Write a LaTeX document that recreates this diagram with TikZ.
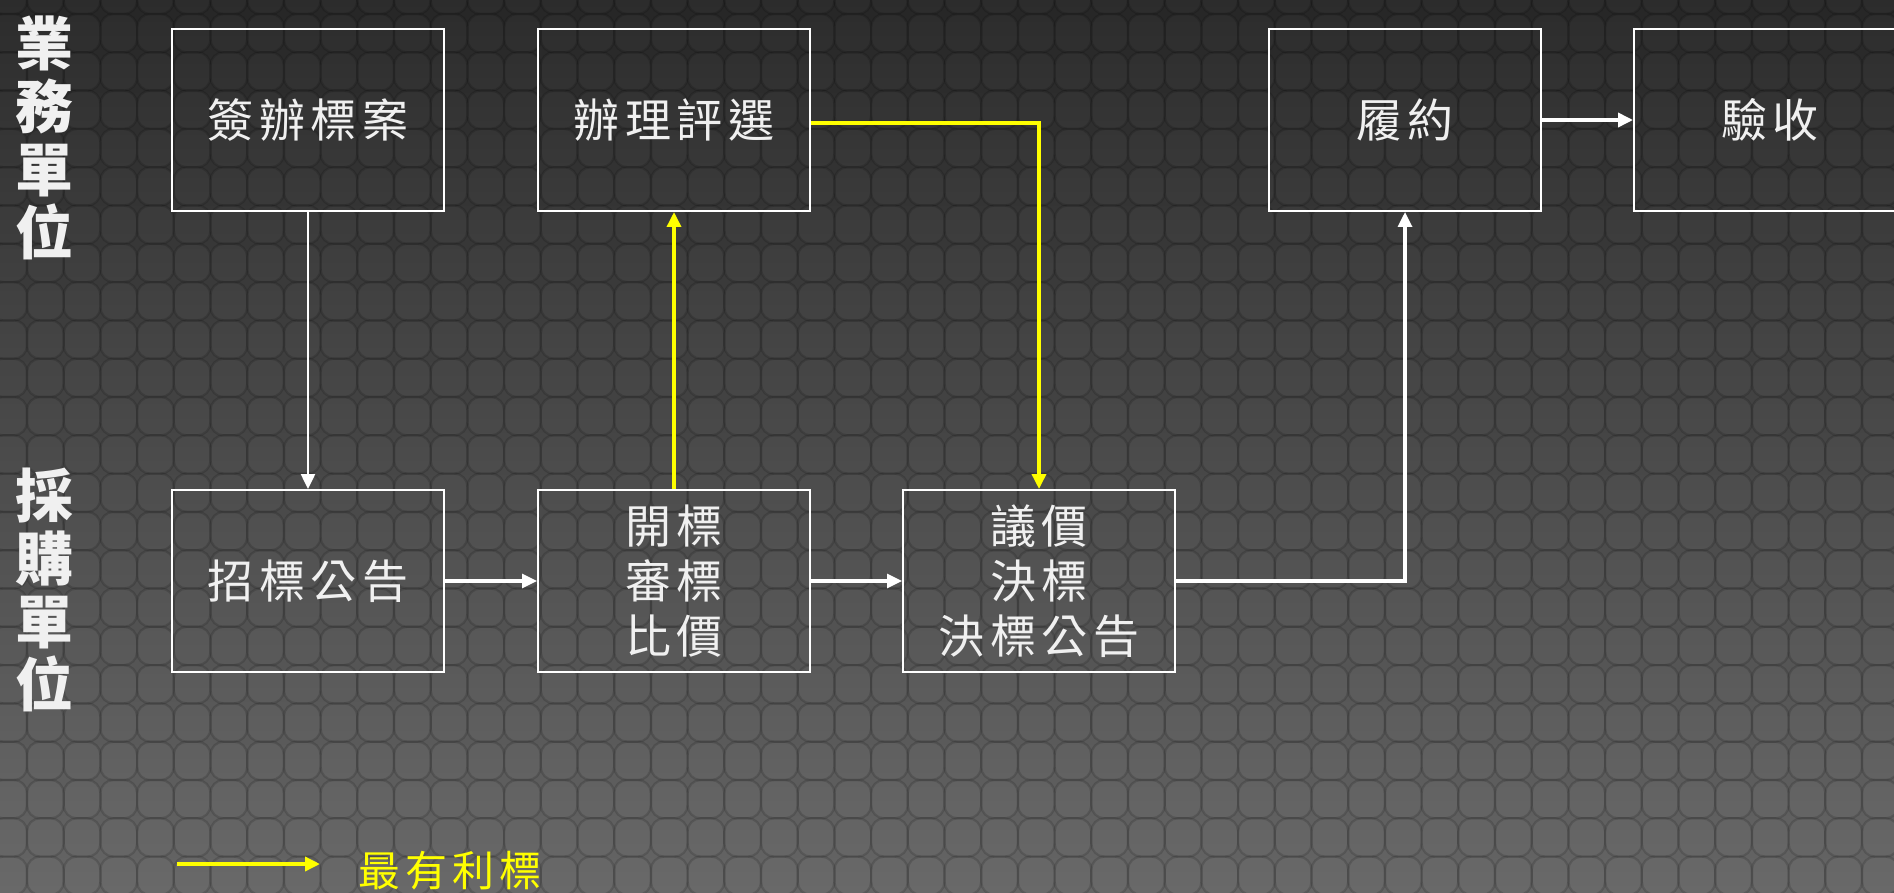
\documentclass[tikz,border=0pt]{standalone}
\usepackage{fontspec}
\usetikzlibrary{arrows.meta}
\newfontfamily\cjk[LetterSpace=12]{Noto Sans CJK TC}
\newfontfamily\cjklab{Noto Sans CJK TC}
\definecolor{txtc}{HTML}{F0F0F0}
\definecolor{yel}{HTML}{FFFF00}
\definecolor{bgtop}{HTML}{262626}
\definecolor{bgbot}{HTML}{656565}
\begin{document}
\begin{tikzpicture}[x=1pt,y=-1pt,
  tile/.style={draw=black, draw opacity=0.14, line width=2.2pt, fill=white, fill opacity=0.03, rounded corners=13pt},
  procbox/.style={draw=white, line width=2pt, minimum width=272pt, minimum height=182pt, inner sep=0pt,
    text=txtc, align=center, font=\cjk\fontsize{46}{55}\selectfont},
  lanelab/.style={text=txtc, align=center, inner sep=0pt, font=\cjklab\bfseries\fontsize{58}{63}\selectfont},
  wconn/.style={draw=white, line width=3.2pt, -{Triangle[length=15pt,width=14pt]}},
  yconn/.style={draw=yel, line width=3.5pt, -{Triangle[length=15pt,width=14pt]}}]
\useasboundingbox (0,0) rectangle (1894,893);
% background
\shade[top color=bgtop, bottom color=bgbot] (0,0) rectangle (1894,893);
\foreach \i in {-1,...,51}{
  \foreach \j in {-1,...,23}{
    \path[tile] ({27+\i*36.7},{14+\j*38.3}) rectangle ++(36.7,38.3);
  }
}
% lane labels
\node[lanelab] (lane1) at (44,138) {業\\務\\單\\位};
\node[lanelab] (lane2) at (44,590) {採\\購\\單\\位};
% boxes
\node[procbox] (b1) at (308,120) {簽辦標案};
\node[procbox] (b2) at (674,120) {辦理評選};
\node[procbox] (b4) at (1405,120) {履約};
\node[procbox] (b5) at (1770,120) {驗收};
\node[procbox] (c1) at (308,581) {招標公告};
\node[procbox] (c2) at (674,581) {開標\\審標\\比價};
\node[procbox] (c3) at (1039,581) {議價\\決標\\決標公告};
% connectors
\draw[wconn, line width=2.5pt] (b1.south) -- (c1.north);
\draw[wconn] (c1.east) -- (c2.west);
\draw[wconn] (c2.east) -- (c3.west);
\draw[yconn] (c2.north) -- (b2.south);
\draw[yconn] ([yshift=-3pt]b2.east) -| (c3.north);
\draw[wconn] (c3.east) -| (b4.south);
\draw[wconn, line width=3.5pt] (b4.east) -- (b5.west);
% legend
\coordinate (lgA) at (177,864);
\coordinate (lgB) at (320,864);
\draw[yconn] (lgA) -- (lgB);
\node[text=yel, inner sep=0pt, font=\cjk\fontsize{42}{48}\selectfont] (lgT) at (450,871) {最有利標};
\end{tikzpicture}
\end{document}
